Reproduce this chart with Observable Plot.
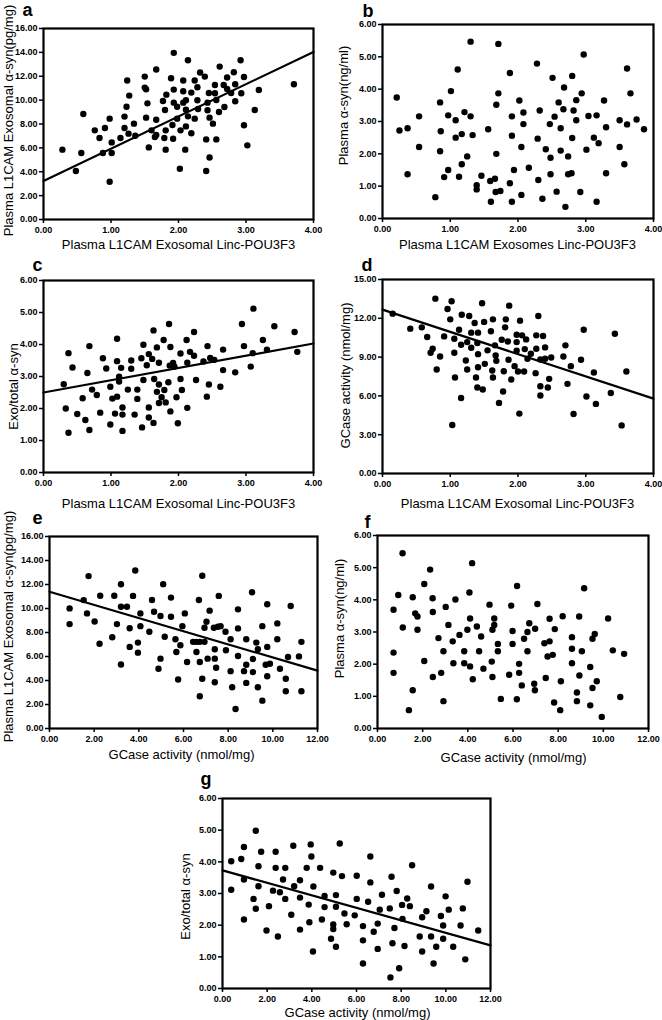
<!DOCTYPE html>
<html><head><meta charset="utf-8">
<script src="https://cdn.jsdelivr.net/npm/d3@7"></script>
<script src="https://cdn.jsdelivr.net/npm/@observablehq/plot@0.6"></script>
<style>
body{margin:0;background:#fff;}
#root{position:relative;width:662px;height:1020px;overflow:hidden;background:#fff;}
#root svg{position:absolute;overflow:visible;}
#root svg g[aria-label$="tick label"]{font-weight:bold;font-size:9px;}
</style></head><body><div id="root"></div>
<script>
// tick values
const ticks4 = [0, 1, 2, 3, 4];
const ticks6 = [0, 1, 2, 3, 4, 5, 6];
const ticks12 = [0, 2, 4, 6, 8, 10, 12];
const ticks15 = [0, 3, 6, 9, 12, 15];
const ticks16 = [0, 2, 4, 6, 8, 10, 12, 14, 16];

// axis titles
const titleLinc = "Plasma L1CAM Exosomal Linc-POU3F3";
const titleLincB = "Plasma L1CAM Exosomes Linc-POU3F3";
const titleExoSyn = "Plasma L1CAM Exosomal α-syn(pg/mg)";
const titlePlasmaSyn = "Plasma α-syn(ng/ml)";
const titleRatio = "Exo/total α-syn";
const titleGCase = "GCase activity (nmol/mg)";

// panel a: Linc-POU3F3 vs exosomal α-syn
const dataA = [[0.28,5.85],[0.48,4.06],[0.59,8.84],[0.56,5.57],[0.76,7.47],[0.83,6.83],[0.91,7.66],[0.88,5.57],[0.98,8.45],[1.01,5.57],[1.01,6.46],[0.98,3.16],[1.14,6.83],[1.20,8.62],[1.20,7.66],[1.23,9.45],[1.24,11.64],[1.27,10.38],[1.26,7.19],[1.34,8.03],[1.36,7.02],[1.50,11.97],[1.50,11.05],[1.52,10.91],[1.54,9.73],[1.52,8.53],[1.56,6.04],[1.60,7.47],[1.65,6.91],[1.67,7.08],[1.67,8.36],[1.67,12.56],[1.79,6.83],[1.81,7.47],[1.81,5.85],[1.80,9.17],[1.82,10.46],[1.77,9.93],[1.89,11.83],[1.93,13.96],[1.93,10.88],[1.93,9.79],[1.92,6.77],[1.91,7.92],[1.98,9.45],[1.98,8.45],[2.02,4.25],[2.03,7.47],[2.07,11.64],[2.07,10.74],[2.07,9.79],[2.11,9.99],[2.11,9.20],[2.11,7.80],[2.10,5.85],[2.14,13.34],[2.14,8.64],[2.19,7.22],[2.19,10.63],[2.24,11.64],[2.24,8.45],[2.28,11.08],[2.28,9.99],[2.29,9.26],[2.32,12.31],[2.39,11.97],[2.41,6.71],[2.41,4.06],[2.43,9.79],[2.43,9.15],[2.45,10.60],[2.46,8.53],[2.46,5.20],[2.51,8.03],[2.54,11.27],[2.54,10.57],[2.56,10.01],[2.56,6.71],[2.60,9.01],[2.61,12.81],[2.67,11.27],[2.68,9.43],[2.72,11.89],[2.72,10.94],[2.78,10.60],[2.82,12.34],[2.84,11.33],[2.84,9.90],[2.92,13.34],[2.93,10.57],[2.97,11.94],[2.97,7.89],[3.02,6.21],[3.13,9.17],[3.19,10.85],[3.71,11.33]];
const fitA = [[0, 3.22], [4, 14.04]];

// panel b: Linc-POU3F3 vs plasma α-syn
const dataB = [[0.21,3.74],[0.25,2.72],[0.37,2.79],[0.37,1.37],[0.54,3.16],[0.54,2.21],[0.78,0.66],[0.85,3.59],[0.86,2.70],[0.85,2.08],[0.91,1.28],[0.97,1.50],[0.97,3.19],[1.01,3.94],[1.08,3.04],[1.08,2.50],[1.11,4.61],[1.13,1.29],[1.17,2.61],[1.17,1.68],[1.21,3.29],[1.25,1.92],[1.30,3.16],[1.30,5.47],[1.33,2.58],[1.39,1.03],[1.39,0.90],[1.46,1.32],[1.56,2.76],[1.59,1.16],[1.60,0.52],[1.66,1.23],[1.68,3.52],[1.68,2.00],[1.67,0.82],[1.71,3.87],[1.74,0.85],[1.71,5.40],[1.88,1.09],[1.88,4.50],[1.91,3.16],[1.91,2.56],[1.91,0.52],[1.94,1.50],[2.02,3.65],[2.05,2.21],[2.05,0.73],[2.08,3.28],[2.08,2.92],[2.16,1.57],[2.28,4.79],[2.29,2.47],[2.30,1.19],[2.32,3.34],[2.36,0.61],[2.41,2.14],[2.47,2.92],[2.48,1.88],[2.48,1.37],[2.51,4.35],[2.54,3.15],[2.57,0.83],[2.60,3.59],[2.63,2.79],[2.63,2.10],[2.67,3.38],[2.68,4.05],[2.70,0.36],[2.74,1.92],[2.74,1.37],[2.79,1.40],[2.80,4.41],[2.80,2.49],[2.82,3.34],[2.86,3.66],[2.86,3.04],[2.92,0.82],[2.94,3.87],[2.97,5.07],[3.01,2.13],[3.04,3.17],[3.12,2.50],[3.16,3.19],[3.16,0.52],[3.19,2.33],[3.27,3.65],[3.30,2.82],[3.30,1.40],[3.50,3.04],[3.50,2.21],[3.57,1.68],[3.61,2.91],[3.61,4.64],[3.66,3.87],[3.75,3.06],[3.86,2.76]];

// panel c: Linc-POU3F3 vs exo/total α-syn
const dataC = [[0.30,2.76],[0.33,2.00],[0.37,3.73],[0.37,1.24],[0.43,3.28],[0.50,1.83],[0.58,2.32],[0.62,1.64],[0.65,3.11],[0.68,3.95],[0.68,1.33],[0.72,2.59],[0.79,2.42],[0.84,1.87],[0.88,3.57],[0.93,3.25],[0.99,2.68],[0.99,1.50],[1.02,2.31],[1.06,1.84],[1.09,3.48],[1.09,2.37],[1.09,4.18],[1.12,2.99],[1.12,2.84],[1.15,3.27],[1.17,2.03],[1.17,1.81],[1.17,1.30],[1.30,3.50],[1.30,3.24],[1.25,2.59],[1.35,1.81],[1.39,2.59],[1.39,2.30],[1.45,3.57],[1.48,3.99],[1.48,2.89],[1.46,1.41],[1.53,3.35],[1.56,3.70],[1.56,2.03],[1.56,1.72],[1.61,3.55],[1.63,4.44],[1.63,1.55],[1.64,2.92],[1.68,3.91],[1.68,2.52],[1.71,3.43],[1.71,2.75],[1.71,2.17],[1.75,2.35],[1.78,4.14],[1.79,2.58],[1.81,2.19],[1.85,2.82],[1.86,4.64],[1.87,3.34],[1.88,3.92],[1.88,1.91],[1.92,3.42],[1.94,3.31],[1.97,2.35],[1.99,1.54],[2.03,2.92],[2.03,3.72],[2.05,2.58],[2.12,4.14],[2.13,3.43],[2.13,2.02],[2.17,3.77],[2.23,4.39],[2.23,3.65],[2.26,2.89],[2.37,3.47],[2.42,2.37],[2.43,3.95],[2.45,2.75],[2.47,3.58],[2.53,3.52],[2.62,2.68],[2.66,3.84],[2.66,3.20],[2.84,3.13],[2.94,4.64],[2.97,3.95],[3.07,3.31],[3.10,3.73],[3.11,5.12],[3.25,4.14],[3.31,3.84],[3.42,4.57],[3.72,4.39],[3.76,3.77]];
const fitC = [[0, 2.50], [4, 4.03]];

// panel d: Linc-POU3F3 vs GCase activity
const dataD = [[0.15,12.36],[0.41,11.20],[0.58,11.30],[0.66,10.55],[0.71,9.34],[0.74,9.65],[0.78,13.52],[0.80,8.04],[0.85,9.05],[0.91,10.60],[0.96,12.72],[1.00,11.92],[1.02,13.32],[1.03,3.75],[1.06,10.42],[1.06,9.34],[1.07,7.42],[1.13,11.12],[1.16,9.96],[1.17,12.28],[1.16,5.84],[1.23,8.74],[1.25,10.16],[1.25,8.04],[1.28,12.18],[1.31,10.89],[1.31,9.72],[1.36,11.64],[1.38,7.42],[1.40,6.65],[1.40,10.09],[1.41,10.89],[1.41,8.22],[1.41,9.23],[1.47,13.16],[1.48,6.49],[1.50,11.72],[1.51,8.48],[1.55,9.52],[1.60,11.00],[1.62,7.96],[1.63,7.42],[1.63,11.92],[1.66,9.91],[1.67,9.13],[1.68,8.71],[1.72,5.46],[1.76,10.34],[1.78,6.34],[1.79,7.91],[1.81,11.30],[1.82,11.92],[1.85,10.21],[1.86,8.79],[1.87,12.98],[1.90,7.27],[1.95,8.30],[1.98,10.73],[1.98,10.16],[1.98,9.49],[2.00,7.89],[2.02,4.63],[2.03,11.82],[2.06,10.68],[2.09,7.89],[2.10,9.62],[2.12,10.37],[2.14,8.87],[2.19,9.26],[2.26,7.76],[2.27,10.68],[2.27,9.65],[2.30,12.18],[2.33,8.82],[2.33,6.75],[2.33,6.03],[2.37,10.63],[2.40,9.75],[2.40,8.87],[2.44,6.65],[2.46,7.32],[2.49,8.97],[2.67,9.05],[2.70,9.91],[2.73,6.93],[2.78,8.30],[2.82,4.60],[2.93,8.79],[2.97,11.12],[3.01,5.95],[3.12,7.81],[3.15,5.38],[3.37,6.23],[3.43,10.81],[3.53,3.72],[3.60,7.89]];
const fitD = [[0, 12.67], [4, 5.79]];

// panel e: GCase activity vs exosomal α-syn
const dataE = [[0.90,10.01],[0.90,8.70],[1.53,10.70],[1.75,12.70],[1.68,9.59],[2.02,8.92],[2.24,7.06],[2.27,11.06],[2.90,11.06],[2.81,7.61],[3.02,8.70],[3.20,12.02],[3.20,10.15],[3.20,5.33],[3.47,10.15],[3.59,8.36],[3.59,6.80],[3.74,11.05],[3.84,13.17],[3.96,7.16],[3.96,6.32],[4.07,9.59],[4.07,8.53],[4.47,8.06],[4.59,10.71],[4.68,9.73],[4.88,4.98],[4.97,9.37],[4.97,5.82],[5.09,12.03],[5.16,7.64],[5.44,9.31],[5.44,10.91],[5.64,7.44],[5.68,6.38],[5.76,4.08],[5.86,6.94],[5.95,8.53],[6.06,9.59],[6.16,5.54],[6.43,7.22],[6.58,7.22],[6.58,6.38],[6.69,10.71],[6.73,7.22],[6.73,5.54],[6.73,2.69],[6.84,12.73],[6.84,4.14],[6.94,8.39],[6.94,7.22],[7.03,8.90],[7.08,5.82],[7.17,9.82],[7.36,8.39],[7.40,5.82],[7.40,6.60],[7.40,3.86],[7.46,5.06],[7.54,8.48],[7.58,11.05],[7.66,8.53],[7.88,8.06],[7.90,6.52],[8.11,7.44],[8.11,4.78],[8.18,3.44],[8.33,1.62],[8.44,9.93],[8.44,8.34],[8.44,6.04],[8.71,4.78],[8.81,7.44],[8.81,5.31],[8.81,3.80],[9.07,11.36],[9.11,5.79],[9.11,4.70],[9.26,7.16],[9.33,6.60],[9.33,3.44],[9.53,8.53],[9.53,2.32],[9.68,5.31],[9.75,10.35],[9.75,6.80],[9.75,4.36],[9.87,5.40],[10.20,8.76],[10.20,7.44],[10.32,4.98],[10.58,4.14],[10.58,3.10],[10.68,5.96],[10.80,10.21],[11.17,6.01],[11.28,7.22],[11.28,3.10]];
const fitE = [[0, 11.4], [12, 4.82]];

// panel f: GCase activity vs plasma α-syn
const dataF = [[0.71,3.69],[0.71,2.36],[0.71,1.73],[0.92,4.15],[1.11,5.45],[1.12,3.14],[1.39,0.57],[1.56,4.08],[1.56,1.19],[1.67,3.58],[1.77,3.48],[1.77,3.07],[2.07,4.49],[2.07,2.10],[2.33,4.94],[2.44,4.05],[2.45,3.62],[2.45,1.60],[2.70,2.81],[2.82,1.73],[2.92,2.40],[2.92,0.85],[3.02,3.78],[3.14,3.22],[3.33,2.71],[3.36,2.03],[3.45,4.01],[3.63,2.91],[3.84,2.40],[3.84,2.03],[4.07,4.23],[3.98,3.07],[4.10,3.42],[4.10,1.93],[4.19,5.14],[4.22,1.53],[4.40,3.17],[4.59,2.86],[4.50,2.40],[4.69,1.86],[4.96,3.85],[5.06,2.08],[5.09,3.07],[5.09,1.60],[5.17,3.42],[5.17,3.22],[5.33,2.63],[5.33,2.40],[5.46,0.92],[5.83,1.67],[5.92,3.82],[5.98,3.03],[5.98,2.63],[6.17,0.91],[6.18,4.43],[6.27,2.01],[6.27,1.73],[6.39,1.34],[6.49,2.79],[6.64,3.00],[6.64,2.40],[6.72,3.27],[6.94,1.39],[6.97,1.19],[6.98,3.10],[7.08,3.87],[7.39,2.65],[7.45,1.57],[7.53,2.24],[7.62,3.41],[7.62,2.71],[7.76,2.29],[7.82,0.81],[7.85,3.09],[8.09,0.57],[8.12,1.47],[8.20,3.49],[8.61,2.84],[8.61,2.48],[8.61,2.03],[8.83,1.12],[8.83,0.85],[8.93,3.48],[8.94,1.65],[9.05,2.40],[9.15,4.36],[9.42,1.91],[9.42,0.72],[9.52,2.79],[9.52,1.26],[9.62,2.94],[9.71,1.47],[9.93,0.36],[10.21,3.42],[10.42,2.43],[10.75,0.98],[10.92,2.32]];

// panel g: GCase activity vs exo/total α-syn
const dataG = [[0.39,4.02],[0.39,3.12],[0.84,4.09],[0.96,4.47],[0.96,3.44],[0.96,2.18],[1.39,2.83],[1.49,4.98],[1.49,2.52],[1.61,3.86],[1.61,3.23],[1.73,4.32],[1.97,1.83],[2.08,2.60],[2.26,3.09],[2.38,4.32],[2.38,3.81],[2.48,1.64],[2.57,3.04],[2.71,3.44],[2.81,3.81],[2.81,2.83],[3.08,2.33],[3.17,4.51],[3.21,3.23],[3.47,3.42],[3.47,2.87],[3.47,1.86],[3.77,3.81],[3.86,2.65],[3.89,2.09],[3.95,4.55],[3.98,4.17],[4.05,1.17],[4.07,3.22],[4.37,3.81],[4.45,2.18],[4.57,2.92],[4.57,2.57],[4.86,1.57],[4.96,3.66],[4.96,2.02],[4.96,1.88],[5.08,2.95],[5.08,2.58],[5.08,1.32],[5.25,4.58],[5.35,3.55],[5.46,2.37],[5.56,2.03],[5.92,2.31],[6.01,3.56],[6.01,2.83],[6.29,1.97],[6.29,1.52],[6.29,0.79],[6.52,2.74],[6.62,4.17],[6.62,3.35],[6.77,1.79],[6.95,2.05],[6.95,1.25],[7.14,2.96],[7.04,2.49],[7.49,2.53],[7.57,3.53],[7.61,1.43],[7.52,0.35],[7.70,1.91],[7.80,3.08],[7.91,0.64],[8.04,2.64],[8.06,2.20],[8.15,1.34],[8.27,2.84],[8.39,2.60],[8.49,3.89],[8.83,1.64],[8.94,2.25],[8.94,1.17],[9.13,2.44],[9.34,3.22],[9.34,1.64],[9.45,0.79],[9.57,1.32],[9.78,2.29],[9.88,1.99],[9.88,1.57],[9.99,2.91],[10.13,2.49],[10.33,1.32],[10.66,1.99],[10.76,2.53],[10.87,0.92],[10.97,3.37],[11.45,1.83]];
const fitG = [[0, 3.73], [12, 1.36]];

const FONT = "'Liberation Sans', Arial, Helvetica, sans-serif";
const root = document.getElementById("root");
const M = 50;

function panel(p) {
  const fw = p.frame.r - p.frame.l, fh = p.frame.b - p.frame.t;
  const marks = [
    Plot.axisX({ticks: p.xTicks, tickFormat: d3.format(".2f"), tickSize: 4, tickPadding: 3,
      fontSize: 9, fontWeight: "bold", label: null, strokeWidth: 1.5}),
    Plot.axisY({ticks: p.yTicks, tickFormat: d3.format(".2f"), tickSize: 4, tickPadding: 2,
      fontSize: 9, fontWeight: "bold", label: null, strokeWidth: 1.5}),
    Plot.dot(p.data, {x: d => d[0], y: d => d[1], r: 3.2, fill: "black", stroke: "none"})
  ];
  if (p.fit) marks.push(Plot.line(p.fit, {x: d => d[0], y: d => d[1], stroke: "black", strokeWidth: 2.2}));
  marks.push(Plot.frame({stroke: "black", strokeWidth: 2.2}));
  marks.push(Plot.text([p.letter.t], {text: d => d, frameAnchor: "top-left",
    dx: p.letter.x - p.frame.l, dy: p.letter.y - p.frame.t, textAnchor: "start", lineAnchor: "bottom",
    fontSize: 18, fontWeight: "bold", fill: "black"}));
  marks.push(Plot.text([p.xTitle.t], {text: d => d, frameAnchor: "top-left",
    dx: p.xTitle.x - p.frame.l, dy: p.xTitle.y - p.frame.t, textAnchor: "middle", lineAnchor: "bottom",
    fontSize: 13, fill: "black"}));
  marks.push(Plot.text([p.yTitle.t], {text: d => d, frameAnchor: "top-left",
    dx: p.yTitle.x - p.frame.l, dy: p.yTitle.y - p.frame.t, textAnchor: "middle", lineAnchor: "bottom",
    rotate: -90, fontSize: 13, fill: "black"}));
  const svg = Plot.plot({
    width: fw + 2 * M, height: fh + 2 * M,
    marginLeft: M, marginRight: M, marginTop: M, marginBottom: M,
    x: {domain: p.xDomain}, y: {domain: p.yDomain},
    style: {fontFamily: FONT, background: "transparent", color: "black", overflow: "visible"},
    marks
  });
  svg.style.left = (p.frame.l - M) + "px";
  svg.style.top = (p.frame.t - M) + "px";
  root.appendChild(svg);
}

panel({data: dataA, fit: fitA, xDomain: [0, 4], yDomain: [0, 16], xTicks: ticks4, yTicks: ticks16,
  frame: {l: 43, r: 313, t: 28, b: 219}, letter: {t: "a", x: 22, y: 15},
  xTitle: {t: titleLinc, x: 178, y: 248}, yTitle: {t: titleExoSyn, x: 12, y: 120}});
panel({data: dataB, fit: null, xDomain: [0, 4], yDomain: [0, 6], xTicks: ticks4, yTicks: ticks6,
  frame: {l: 382, r: 653, t: 24, b: 218}, letter: {t: "b", x: 362, y: 16},
  xTitle: {t: titleLincB, x: 517, y: 248}, yTitle: {t: titlePlasmaSyn, x: 347, y: 105}});
panel({data: dataC, fit: fitC, xDomain: [0, 4], yDomain: [0, 6], xTicks: ticks4, yTicks: ticks6,
  frame: {l: 43, r: 313, t: 280, b: 472}, letter: {t: "c", x: 32, y: 270},
  xTitle: {t: titleLinc, x: 178, y: 507}, yTitle: {t: titleRatio, x: 17, y: 386}});
panel({data: dataD, fit: fitD, xDomain: [0, 4], yDomain: [0, 15], xTicks: ticks4, yTicks: ticks15,
  frame: {l: 382, r: 653, t: 279, b: 473}, letter: {t: "d", x: 361, y: 270},
  xTitle: {t: titleLinc, x: 517, y: 507}, yTitle: {t: titleGCase, x: 349, y: 375}});
panel({data: dataE, fit: fitE, xDomain: [0, 12], yDomain: [0, 16], xTicks: ticks12, yTicks: ticks16,
  frame: {l: 49, r: 317, t: 536, b: 728}, letter: {t: "e", x: 32, y: 523},
  xTitle: {t: titleGCase, x: 181, y: 758}, yTitle: {t: titleExoSyn, x: 12, y: 626}});
panel({data: dataF, fit: null, xDomain: [0, 12], yDomain: [0, 6], xTicks: ticks12, yTicks: ticks6,
  frame: {l: 377, r: 648, t: 535, b: 728}, letter: {t: "f", x: 364, y: 527},
  xTitle: {t: titleGCase, x: 513, y: 761}, yTitle: {t: titlePlasmaSyn, x: 343, y: 618}});
panel({data: dataG, fit: fitG, xDomain: [0, 12], yDomain: [0, 6], xTicks: ticks12, yTicks: ticks6,
  frame: {l: 222, r: 490, t: 798, b: 988}, letter: {t: "g", x: 200, y: 784},
  xTitle: {t: titleGCase, x: 357, y: 1016}, yTitle: {t: titleRatio, x: 189, y: 896}});
</script>
</body></html>
